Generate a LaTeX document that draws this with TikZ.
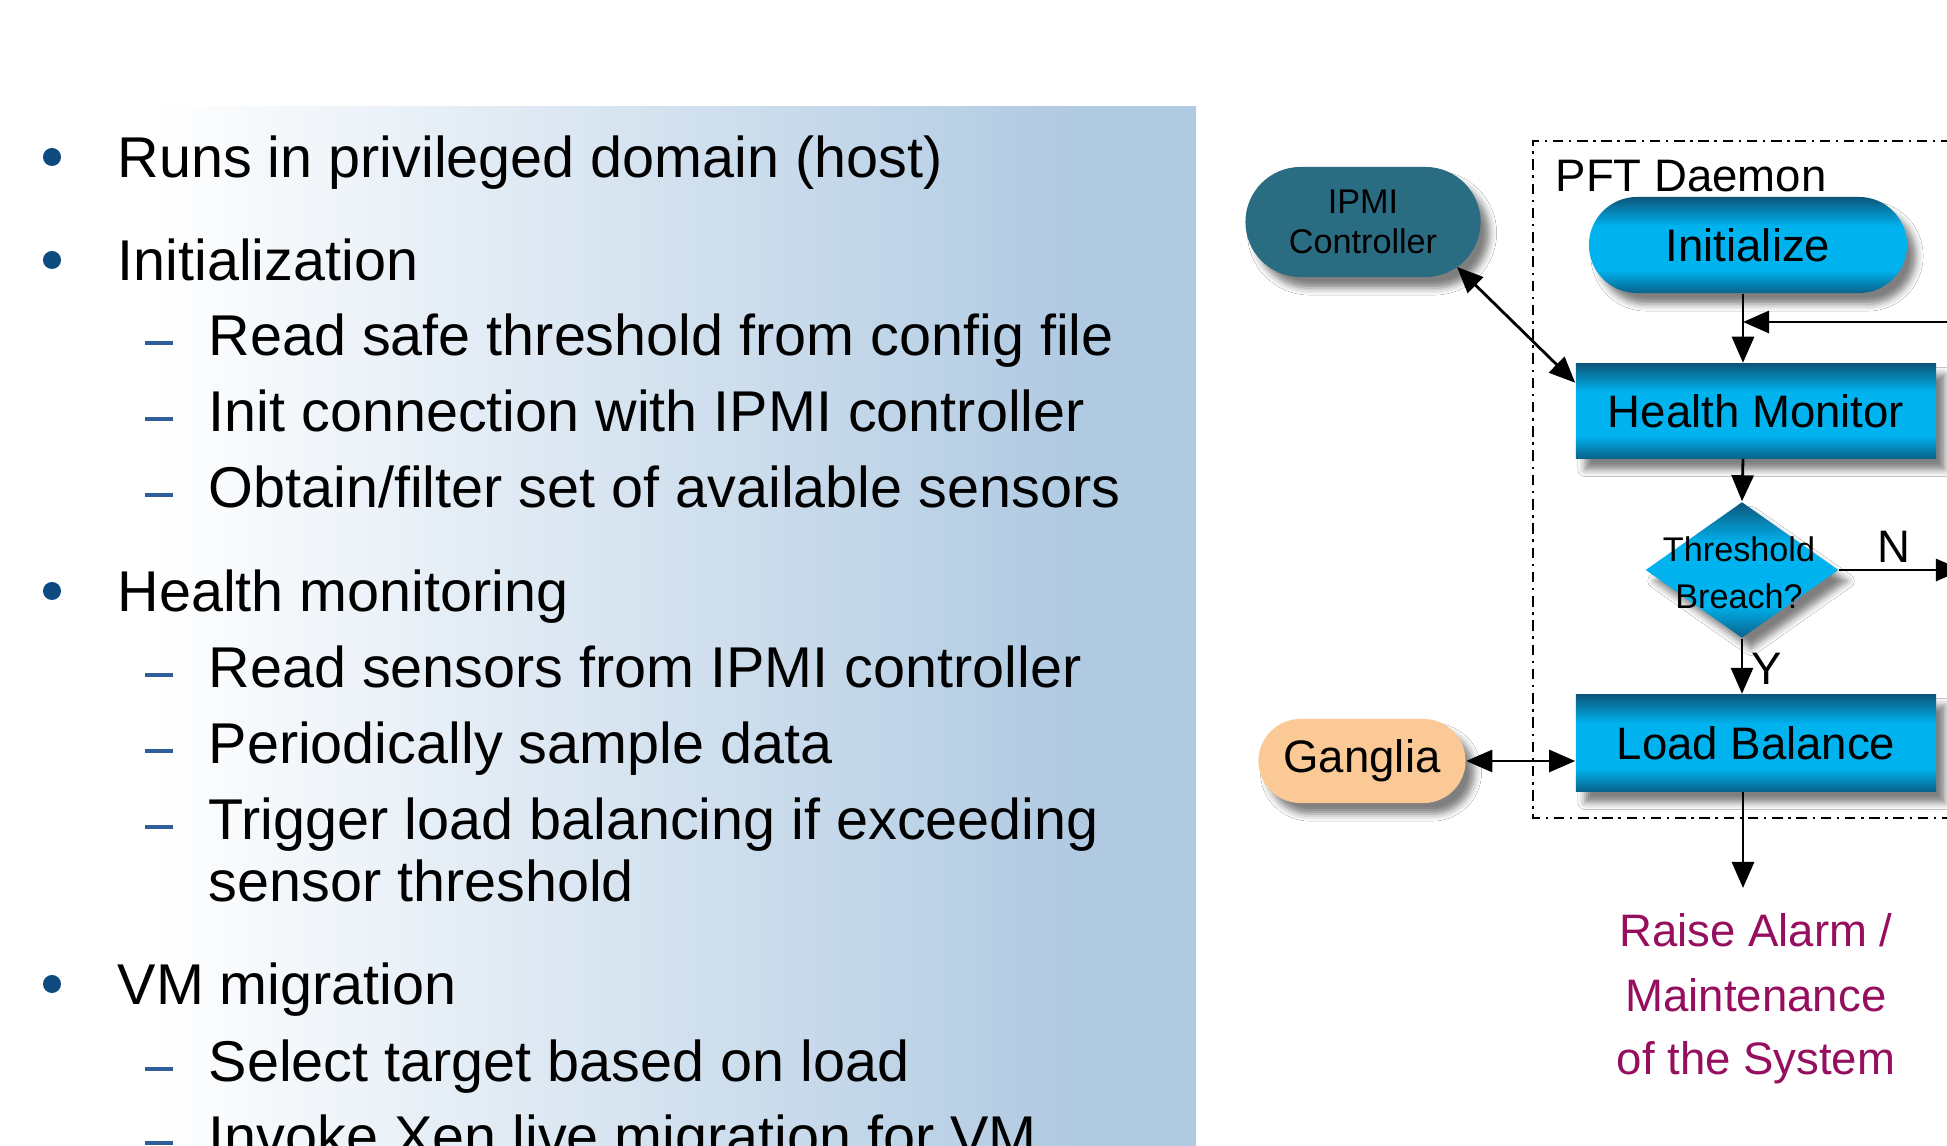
\documentclass[tikz,border=0pt]{standalone}
\usepackage{fontspec}
\setmainfont{Liberation Sans}
\usetikzlibrary{arrows.meta,shapes.geometric,shapes.misc,shadows.blur,calc}

% colours
\definecolor{panelblue}{RGB}{176,202,226}
\definecolor{bulletblue}{RGB}{13,74,128}
\definecolor{dashblue}{RGB}{46,95,154}
\definecolor{ipmiteal}{RGB}{42,108,130}
\definecolor{gangliapeach}{RGB}{250,201,150}
\definecolor{alarmpurple}{RGB}{150,15,95}
\definecolor{fdark}{RGB}{12,86,122}
\definecolor{fbright}{RGB}{0,178,238}
\definecolor{fbot}{RGB}{9,98,138}

% shadings
\pgfdeclarehorizontalshading{panelshade}{100bp}{color(0bp)=(white); color(25bp)=(white); color(31bp)=(white); color(70bp)=(panelblue); color(100bp)=(panelblue)}
\pgfdeclareverticalshading{flowshade}{100bp}{color(0bp)=(fbot); color(25bp)=(fbot); color(37bp)=(fbright); color(60bp)=(fbright); color(75bp)=(fdark); color(100bp)=(fdark)}

% type sizes
\newcommand\txtbody{\fontsize{16.36pt}{21pt}\selectfont}
\newcommand\txtflow{\fontsize{12.95pt}{18.2pt}\selectfont}
\newcommand\txtsmall{\fontsize{9.73pt}{11.4pt}\selectfont}
\newcommand\txtdiam{\fontsize{9.73pt}{13.4pt}\selectfont}

\begin{document}
\begin{tikzpicture}[x=0.01cm, y=-0.01cm,
  bodytext/.style={anchor=base west, inner sep=0pt, font=\txtbody},
  bulletdot/.style={circle, fill=bulletblue, inner sep=0pt, minimum size=0.18cm},
  subdash/.style={draw=dashblue, line width=1.1pt},
  nshadow/.style={blur shadow={shadow xshift=0.09cm, shadow yshift=-0.11cm, shadow blur radius=0.07cm, shadow opacity=50}},
  flowbox/.style={rectangle, shading=flowshade, nshadow, inner sep=0pt, font=\txtflow},
  flowpill/.style={rounded rectangle, shading=flowshade, nshadow, inner sep=0pt, font=\txtflow},
  extpill/.style={rounded rectangle, nshadow, inner sep=0pt, align=center},
  decision/.style={diamond, shading=flowshade, nshadow, inner sep=0pt},
  arr/.style={-{Triangle[length=0.26cm,width=0.22cm]}, line width=0.8pt},
  biarr/.style={{Triangle[length=0.26cm,width=0.22cm]}-{Triangle[length=0.26cm,width=0.22cm]}, line width=0.8pt},
  daemonframe/.style={line width=0.6pt, dash pattern=on 3pt off 1.6pt on 0.7pt off 1.6pt},
  flowlabel/.style={inner sep=0pt, font=\txtflow},
  alarmtext/.style={anchor=base, inner sep=0pt, font=\txtflow, text=alarmpurple}
]
\useasboundingbox (0,0) rectangle (1947,1146);
\fill[white] (0,0) rectangle (1947,1146);

% ---- bullet panel ----
\shade[shading=panelshade] (8,107) rectangle (1196,1170);

\node[bulletdot] (b1) at (52,157) {};
\node[bodytext] (t1) at (117,178) {Runs in privileged domain (host)};

\node[bulletdot] (b2) at (52,260) {};
\node[bodytext] (t2) at (117,281) {Initialization};
\draw[subdash] (145,343) -- (173,343);
\node[bodytext] (t21) at (208,356) {Read safe threshold from config file};
\draw[subdash] (145,419) -- (173,419);
\node[bodytext] (t22) at (208,432) {Init connection with IPMI controller};
\draw[subdash] (145,495) -- (173,495);
\node[bodytext] (t23) at (208,508) {Obtain/filter set of available sensors};

\node[bulletdot] (b3) at (52,591) {};
\node[bodytext] (t3) at (117,612) {Health monitoring};
\draw[subdash] (145,675) -- (173,675);
\node[bodytext] (t31) at (208,688) {Read sensors from IPMI controller};
\draw[subdash] (145,751) -- (173,751);
\node[bodytext] (t32) at (208,764) {Periodically sample data};
\draw[subdash] (145,827) -- (173,827);
\node[bodytext] (t33) at (208,840) {Trigger load balancing if exceeding};
\node[bodytext] (t34) at (208,902) {sensor threshold};

\node[bulletdot] (b4) at (52,984) {};
\node[bodytext] (t4) at (117,1005) {VM migration};
\draw[subdash] (145,1069) -- (173,1069);
\node[bodytext] (t41) at (208,1082) {Select target based on load};
\draw[subdash] (145,1143) -- (173,1143);
\node[bodytext] (t42) at (208,1156) {Invoke Xen live migration for VM};

% ---- PFT daemon flow ----
\draw[daemonframe] (2000,141) -- (1533,141) -- (1533,818) -- (2000,818);
\node[flowlabel, anchor=base west] (pft) at (1555,192) {PFT Daemon};

\coordinate (flowx) at (1743,0);

\node[extpill, fill=ipmiteal, minimum width=2.35cm, minimum height=1.10cm, font=\txtsmall] (ipmi) at (1363,222) {IPMI\\Controller};
\node[flowpill, minimum width=3.18cm, minimum height=0.96cm] (init) at (1748,245) {Initialize};
\node[flowbox, minimum width=3.60cm, minimum height=0.95cm] (hm) at (1756,411) {Health Monitor};
\node[decision, minimum width=1.93cm, minimum height=1.36cm] (breach) at (1742,570) {};
\node[inner sep=0pt, align=center, font=\txtdiam] (breachtxt) at (1739,573) {Threshold\\Breach?};
\node[flowbox, minimum width=3.60cm, minimum height=0.97cm] (lb) at (1756,743) {Load Balance};
\node[extpill, fill=gangliapeach, minimum width=2.07cm, minimum height=0.84cm, font=\txtflow] (gang) at (1362,761) {Ganglia};

\node[alarmtext] (alarm1) at (1756,947) {Raise Alarm /};
\node[alarmtext] (alarm2) at (1756,1012) {Maintenance};
\node[alarmtext] (alarm3) at (1756,1075) {of the System};

\coordinate (loopin) at (1965,322);
\coordinate (noout) at (1962,570);
\coordinate (alarmin) at (1743,888);

% connectors
\draw[arr] (init.south -| flowx) -- (hm.north -| flowx);
\draw[arr] (loopin) -- (loopin -| flowx);
\draw[arr] (hm.south -| flowx) -- (breach.north);
\draw[arr] (breach.south) -- (lb.north -| breach.south);
\draw[arr] (breach.east) -- (noout);
\draw[arr] (lb.south -| flowx) -- (alarmin);
\draw[biarr] ($(ipmi.center)+(94,45)$) -- ($(hm.north west)+(0,20)$);
\draw[biarr] (gang.east) -- (gang.east -| lb.west);

\node[flowlabel, anchor=base] (nlabel) at (1894,563) {N};
\node[flowlabel, anchor=base west] (ylabel) at (1751,685) {Y};
\end{tikzpicture}
\end{document}
